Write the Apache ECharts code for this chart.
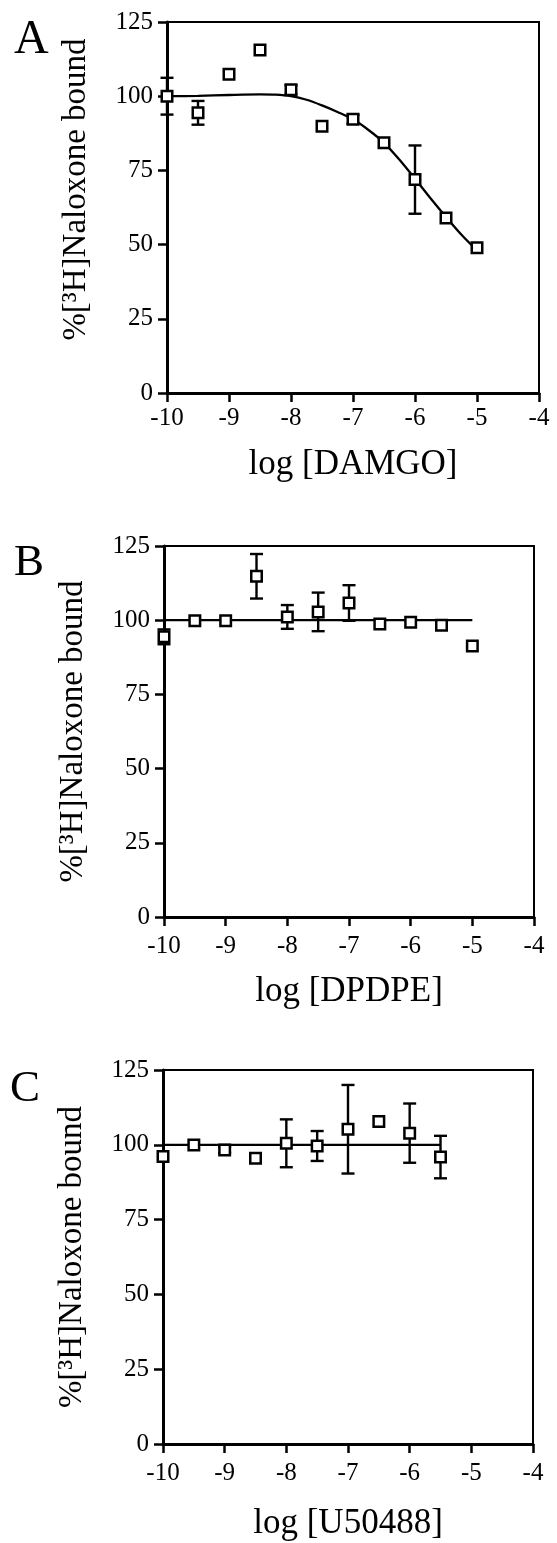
<!DOCTYPE html>
<html><head><meta charset="utf-8">
<script src="https://cdn.jsdelivr.net/npm/echarts/dist/echarts.min.js"></script>
<style>html,body{margin:0;padding:0;background:#fff}#c{width:557px;height:1543px}</style>
</head><body><div id="c"></div>
<script>
// ---- tick labels / text ----
const xTickMin = -10, xTickMax = -4, xTickStep = 1;
const yTickMin = 0, yTickMax = 125, yTickStep = 25;
const panelLetters = ['A', 'B', 'C'];
const xNames = ['log [DAMGO]', 'log [DPDPE]', 'log [U50488]'];
const yName = '%[³H]Naloxone bound';

// ---- Panel A: DAMGO ----
const damgoX   = [-10, -9.5, -9, -8.5, -8, -7.5, -7, -6.5, -6, -5.5, -5];
const damgoY   = [100.0, 94.4, 107.4, 115.6, 102.2, 89.9, 92.2, 84.3, 71.9, 59.0, 48.9];
const damgoErr = [6.2, 4.0, 0, 0, 1.5, 0, 1.5, 0, 11.5, 0, 0];
// fitted curve
const damgoFitX = [-10, -9.5, -9, -8.5, -8.25, -8, -7.75, -7.5, -7.25, -7, -6.75, -6.5, -6.25, -6, -5.75, -5.5, -5.25, -5];
const damgoFitY = [100.0, 100.1, 100.4, 100.6, 100.5, 100.0, 98.8, 96.9, 94.7, 92.2, 88.6, 84.3, 78.6, 72.2, 65.6, 59.3, 53.3, 48.0];

// ---- Panel B: DPDPE ----
const dpdpeX   = [-10, -9.5, -9, -8.5, -8, -7.5, -7, -6.5, -6, -5.5, -5];
const dpdpeY   = [94.4, 99.8, 99.8, 114.8, 101.1, 102.8, 105.8, 98.7, 99.3, 98.3, 91.3];
const dpdpeErr = [2.5, 0, 0, 7.5, 4.0, 6.5, 6.0, 0, 0, 1.5, 0];
const dpdpeFitX = [-10, -5];
const dpdpeFitY = [100, 100];

// ---- Panel C: U50488 ----
const u50X   = [-10, -9.5, -9, -8.5, -8, -7.5, -7, -6.5, -6, -5.5];
const u50Y   = [96.1, 99.9, 98.3, 95.5, 100.5, 99.6, 105.2, 107.8, 103.9, 95.9];
const u50Err = [0, 0, 1.0, 0, 8.0, 5.0, 14.8, 0, 9.9, 7.1];
const u50FitX = [-10, -5.5];
const u50FitY = [100, 100];

const panels = [
  {x: damgoX, y: damgoY, err: damgoErr, fx: damgoFitX, fy: damgoFitY, smooth: true},
  {x: dpdpeX, y: dpdpeY, err: dpdpeErr, fx: dpdpeFitX, fy: dpdpeFitY, smooth: false},
  {x: u50X, y: u50Y, err: u50Err, fx: u50FitX, fy: u50FitY, smooth: false}
];

// ---- layout (styling only) ----
const FONT = '"Liberation Serif", "Times New Roman", serif';
const grids = [
  {left: 167, top: 22, width: 372, height: 371},
  {left: 164, top: 546, width: 370, height: 371},
  {left: 163, top: 1070, width: 370, height: 374}
];
const xLabelMargin = [13, 17, 17];
const xNameGap = [54, 57, 62];
const yNamePad = [[0, 0, 0, 36], [0, 0, 0, 0], [0, 0, 0, 0]];
const letterPos = [{left: 14, top: 16, size: 48}, {left: 14, top: 541, size: 45}, {left: 10, top: 1067, size: 45}];

function errorBar(params, api) {
  const x = api.value(0), y = api.value(1), e = api.value(2);
  const t = api.coord([x, y + e]);
  const b = api.coord([x, y - e]);
  const hw = 6.5;
  const st = {stroke: '#000', lineWidth: 2.4, fill: null};
  return {type: 'group', children: [
    {type: 'line', shape: {x1: t[0], y1: t[1], x2: b[0], y2: b[1]}, style: st},
    {type: 'line', shape: {x1: t[0] - hw, y1: t[1], x2: t[0] + hw, y2: t[1]}, style: st},
    {type: 'line', shape: {x1: b[0] - hw, y1: b[1], x2: b[0] + hw, y2: b[1]}, style: st}
  ]};
}

const option = {
  animation: false,
  backgroundColor: '#fff',
  grid: grids.map(g => Object.assign({show: true, borderColor: '#000', borderWidth: 2, backgroundColor: '#fff', containLabel: false, outerBoundsMode: 'none'}, g)),
  xAxis: panels.map((p, i) => ({
    type: 'value', gridIndex: i, min: xTickMin, max: xTickMax, interval: xTickStep,
    name: xNames[i], nameLocation: 'middle', nameGap: xNameGap[i], nameMoveOverlap: false,
    nameTextStyle: {fontFamily: FONT, fontSize: 35, color: '#000'},
    axisLine: {show: true, onZero: false, lineStyle: {color: '#000', width: 3}},
    axisTick: {show: true, length: 9, lineStyle: {color: '#000', width: 2.5}},
    axisLabel: {fontFamily: FONT, fontSize: 25, color: '#000', margin: xLabelMargin[i], showMinLabel: true, showMaxLabel: true},
    splitLine: {show: false}
  })),
  yAxis: panels.map((p, i) => ({
    type: 'value', gridIndex: i, min: yTickMin, max: yTickMax, interval: yTickStep,
    name: yName, nameLocation: 'middle', nameGap: 74, nameRotate: 90, nameMoveOverlap: false,
    nameTextStyle: {fontFamily: FONT, fontSize: 33, color: '#000', padding: yNamePad[i]},
    axisLine: {show: true, onZero: false, lineStyle: {color: '#000', width: 3}},
    axisTick: {show: true, length: 9, lineStyle: {color: '#000', width: 2.5}},
    axisLabel: {fontFamily: FONT, fontSize: 25, color: '#000', margin: 14, showMinLabel: true, showMaxLabel: true},
    splitLine: {show: false}
  })),
  graphic: panelLetters.map((L, i) => ({
    type: 'text', left: letterPos[i].left, top: letterPos[i].top,
    style: {text: L, font: letterPos[i].size + 'px ' + FONT, fill: '#000'}
  })),
  series: []
};

panels.forEach((p, i) => {
  option.series.push({
    type: 'line', xAxisIndex: i, yAxisIndex: i, z: 3,
    data: p.fx.map((x, j) => [x, p.fy[j]]),
    smooth: p.smooth ? 0.3 : false, showSymbol: false, symbol: 'none',
    lineStyle: {color: '#000', width: 2.3}, silent: true
  });
  option.series.push({
    type: 'custom', xAxisIndex: i, yAxisIndex: i, z: 4,
    data: p.x.map((x, j) => [x, p.y[j], p.err[j]]).filter(d => d[2] > 0),
    renderItem: errorBar, silent: true
  });
  option.series.push({
    type: 'scatter', xAxisIndex: i, yAxisIndex: i, z: 5,
    data: p.x.map((x, j) => [x, p.y[j]]),
    symbol: 'rect', symbolSize: 10.5,
    itemStyle: {color: '#fff', borderColor: '#000', borderWidth: 2.5, opacity: 1}, silent: true
  });
});

const chart = echarts.init(document.getElementById('c'), null, {renderer: 'canvas'});
chart.setOption(option);
</script>
</body></html>
